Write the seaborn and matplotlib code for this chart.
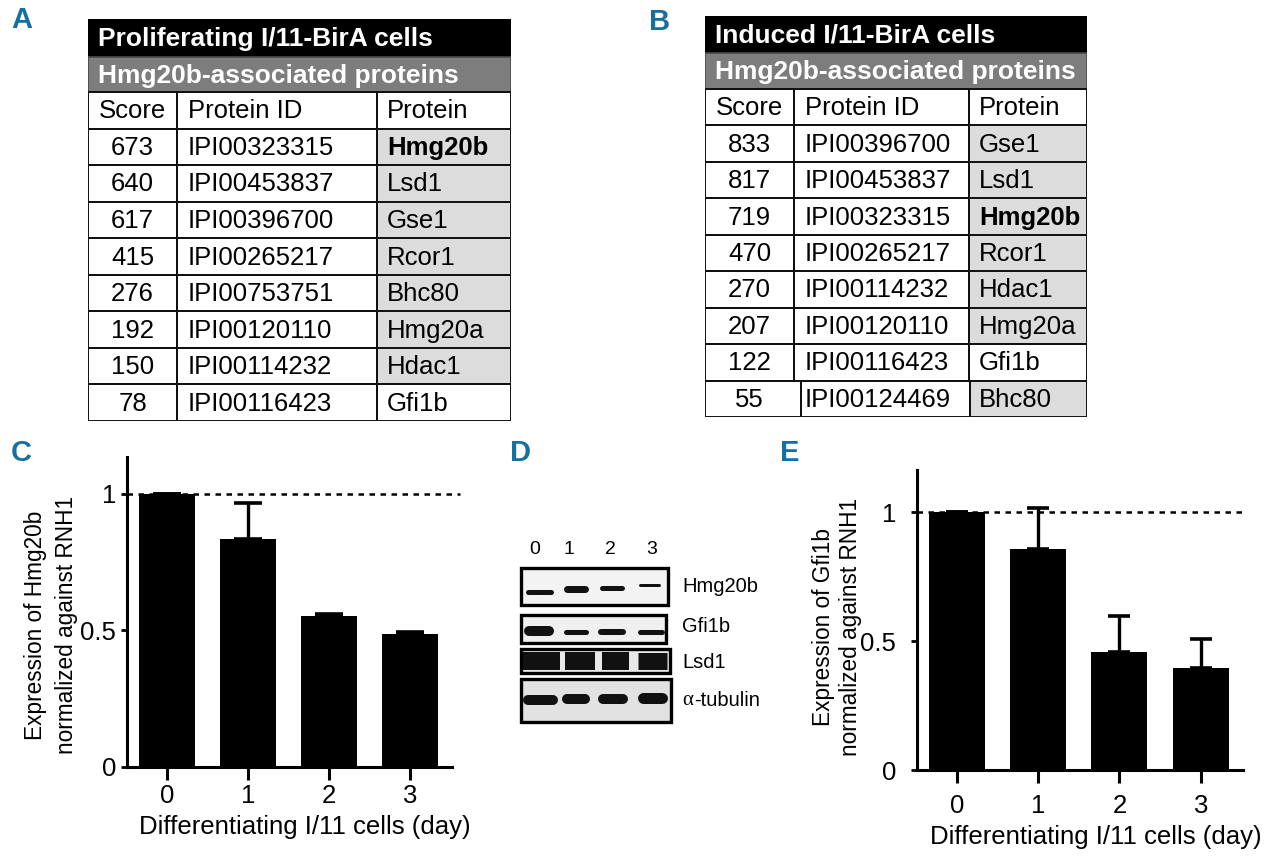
import matplotlib
matplotlib.use("Agg")
import matplotlib.pyplot as plt
from matplotlib.patches import Rectangle
import numpy as np
import pandas as pd
import seaborn as sns

# ----------------------------
# DATA
# ----------------------------
days = ["0", "1", "2", "3"]

# panel C: Hmg20b expression (mean, upper error)
hmg20b_expr = [1.0, 0.835, 0.553, 0.487]
hmg20b_err = [0.0, 0.132, 0.006, 0.009]

# panel E: Gfi1b expression (mean, upper error)
gfi1b_expr = [1.0, 0.855, 0.456, 0.394]
gfi1b_err = [0.0, 0.160, 0.142, 0.113]

# panel A: proliferating cells
prolif_scores = [673, 640, 617, 415, 276, 192, 150, 78]
prolif_ids = ["IPI00323315", "IPI00453837", "IPI00396700", "IPI00265217",
              "IPI00753751", "IPI00120110", "IPI00114232", "IPI00116423"]
prolif_proteins = ["Hmg20b", "Lsd1", "Gse1", "Rcor1", "Bhc80", "Hmg20a", "Hdac1", "Gfi1b"]
prolif_shaded = [True, True, True, True, True, True, True, False]

# panel B: induced cells
induced_scores = [833, 817, 719, 470, 270, 207, 122, 55]
induced_ids = ["IPI00396700", "IPI00453837", "IPI00323315", "IPI00265217",
               "IPI00114232", "IPI00120110", "IPI00116423", "IPI00124469"]
induced_proteins = ["Gse1", "Lsd1", "Hmg20b", "Rcor1", "Hdac1", "Hmg20a", "Gfi1b", "Bhc80"]
induced_shaded = [True, True, True, True, True, True, False, True]

table_header = ["Score", "Protein ID", "Protein"]

# panel D: western blot, band thickness (px) per lane
blot_lanes = ["0", "1", "2", "3"]
blot_targets = ["Hmg20b", "Gfi1b", "Lsd1", "-tubulin"]
hmg20b_band = [5, 7, 5, 3]
gfi1b_band = [10, 5, 6, 5]
lsd1_band = [18, 18, 18, 17]
tubulin_band = [10, 10, 10, 11]

# ----------------------------
# STYLE
# ----------------------------
W, H = 1280, 859
BLUE = "#16709f"
FONT = "Liberation Sans"
sns.set_style("ticks")
plt.rcParams["font.family"] = [FONT, "DejaVu Sans"]
for key in ["text.color", "axes.labelcolor", "xtick.color", "ytick.color", "axes.edgecolor"]:
    plt.rcParams[key] = "black"

fig = plt.figure(figsize=(W / 100, H / 100), dpi=100)


def px_axes(x0, y0, x1, y1):
    return fig.add_axes([x0 / W, 1 - y1 / H, (x1 - x0) / W, (y1 - y0) / H])


# ----------------------------
# TABLES (A, B)
# ----------------------------
def draw_table(box, title, scores, ids, proteins, shaded, col_edges, bands, last_edges=None):
    x0, y0, x1, y1 = box
    ax = px_axes(x0, y0, x1, y1)
    width, height = x1 - x0, y1 - y0
    ax.set_xlim(0, width)
    ax.set_ylim(height, 0)
    ax.axis("off")

    ax.add_patch(Rectangle((0, 0), width, bands[0], facecolor="black", edgecolor="black", lw=1.2))
    ax.text(10, bands[0] / 2 + 1, title, color="white", fontsize=19, fontweight="bold",
            ha="left", va="center")
    y = bands[0]
    ax.add_patch(Rectangle((0, y), width, bands[1], facecolor="#7d7d7d", edgecolor="#4a4a4a", lw=1.2))
    ax.text(10, y + bands[1] / 2 + 1, "Hmg20b-associated proteins", color="white", fontsize=19,
            fontweight="bold", ha="left", va="center")
    y += bands[1]

    n_rows = len(scores) + 1
    row_h = (height - y) / n_rows
    for r in range(n_rows):
        top = y + r * row_h
        edges = last_edges if (last_edges and r == n_rows - 1) else col_edges
        if r == 0:
            cells = table_header
            weights = ["normal"] * 3
            shade = False
        else:
            i = r - 1
            cells = [str(scores[i]), ids[i], proteins[i]]
            weights = ["normal", "normal", "bold" if proteins[i] == "Hmg20b" else "normal"]
            shade = shaded[i]
        if shade:
            ax.add_patch(Rectangle((edges[2], top), edges[3] - edges[2], row_h,
                                   facecolor="#dcdcdc", edgecolor="none"))
        for c in range(3):
            ax.add_patch(Rectangle((edges[c], top), edges[c + 1] - edges[c], row_h,
                                   facecolor="none", edgecolor="#111111", lw=1.4))
        cy = top + row_h / 2 + 1
        ax.text((col_edges[0] + col_edges[1]) / 2, cy, cells[0], fontsize=18.5,
                ha="center", va="center", fontweight=weights[0])
        ax.text(col_edges[1] + 11, cy, cells[1], fontsize=18.5,
                ha="left", va="center", fontweight=weights[1])
        ax.text(col_edges[2] + 10, cy, cells[2], fontsize=18.5,
                ha="left", va="center", fontweight=weights[2])


draw_table((88, 19, 511, 421), "Proliferating I/11-BirA cells", prolif_scores, prolif_ids,
           prolif_proteins, prolif_shaded, [0, 89, 289, 423], [38, 35])
draw_table((705, 16, 1087, 417), "Induced I/11-BirA cells", induced_scores, induced_ids,
           induced_proteins, induced_shaded, [0, 89, 264, 382], [37, 36],
           last_edges=[0, 96, 265, 382])


# ----------------------------
# BAR CHARTS (C, E)
# ----------------------------
def bar_panel(box, values, errs, ylabel, ytop, ylab_xy, ylab_spacing, xlab_y, xpad, ypad, capsize, dash_end):
    ax = px_axes(*box)
    df = pd.DataFrame({"day": days, "expr": values})
    sns.barplot(data=df, x="day", y="expr", color="black", saturation=1, width=0.69,
                edgecolor="black", linewidth=0, ax=ax)
    ax.errorbar(np.arange(len(days)), values, yerr=[np.zeros(len(errs)), errs], fmt="none",
                ecolor="black", elinewidth=2.4, capsize=capsize, capthick=2.6, zorder=3)
    ax.axhline(1, xmin=0, xmax=dash_end, color="black", lw=1.8, ls=(0, (2.2, 2.2)),
               clip_on=False, zorder=4)
    ax.set_xlim(-0.49, 3.52)
    ax.set_ylim(0, ytop)
    ax.set_yticks([0, 0.5, 1])
    ax.set_yticklabels(["0", "0.5", "1"])
    sns.despine(ax=ax)
    for s in ["left", "bottom"]:
        ax.spines[s].set_linewidth(2.2)
    ax.tick_params(axis="x", length=9, width=2.2, labelsize=18.5, pad=xpad)
    ax.tick_params(axis="y", length=4, width=2.0, labelsize=18.5, pad=ypad)
    ax.set_xlabel("Differentiating I/11 cells (day)", fontsize=18.5)
    ax.xaxis.set_label_coords(0.548, xlab_y)
    ax.xaxis.label.set_va("center")
    ax.set_ylabel(ylabel, fontsize=16.3, linespacing=ylab_spacing)
    ax.yaxis.label.set(rotation_mode="default", va="center", ha="center")
    ax.yaxis.set_label_coords(*ylab_xy)
    return ax


bar_panel((127, 457, 452, 767), hmg20b_expr, hmg20b_err,
          "Expression of Hmg20b\nnormalized against RNH1", 1.135, (-0.234, 0.458), 1.45,
          -0.194, 3, 4, 10, 1.025)
bar_panel((917, 470, 1243, 770), gfi1b_expr, gfi1b_err,
          "Expression of Gfi1b\nnormalized against RNH1", 1.163, (-0.246, 0.477), 1.22,
          -0.223, 8, 11, 8, 1.006)

# ----------------------------
# WESTERN BLOT (D)
# ----------------------------
axd = px_axes(500, 530, 800, 740)
axd.set_xlim(500, 800)
axd.set_ylim(740, 530)
axd.axis("off")

label_x = [535, 569, 610, 652]
for lx, lab in zip(label_x, blot_lanes):
    axd.text(lx, 550, lab, fontsize=14, ha="center", va="center")

boxes = [(568, 605, 668, "#f3f3f3"), (615, 643, 666, "#f0f0f0"),
         (649, 673, 670, "#e8e8e8"), (679, 722, 671, "#e2e2e2")]
band_x = [[539, 576, 612, 649], [539, 576, 612, 651],
          [541, 580, 615, 652], [540, 576, 613, 652]]
band_y = [[592, 589, 588, 585], [631, 632, 632, 632], [661, 661, 661, 661], [700, 699, 699, 698]]
band_len = [[28, 25, 25, 22], [30, 25, 28, 27], [37, 30, 27, 29], [35, 28, 30, 30]]
bands = [hmg20b_band, gfi1b_band, lsd1_band, tubulin_band]
label_y = [587, 626, 662, 700]

for k, (top, bot, right, bg) in enumerate(boxes):
    axd.add_patch(Rectangle((521, top), right - 521, bot - top, facecolor=bg,
                            edgecolor="black", lw=2.4, zorder=1))
    for j, thick in enumerate(bands[k]):
        cx = band_x[k][j]
        if k == 2:
            w, cap = band_len[k][j], "butt"
        else:
            w, cap = band_len[k][j] - thick, "round"
        axd.plot([cx - w / 2, cx + w / 2], [band_y[k][j]] * 2, color="#111111",
                 lw=thick * 0.72, solid_capstyle=cap, zorder=2)
    if k < 3:
        axd.text(682, label_y[k], blot_targets[k], fontsize=14.5, ha="left", va="center")
    else:
        axd.text(682, label_y[k], "α", fontsize=15, ha="left", va="center", family="Liberation Serif")
        axd.text(694, label_y[k], blot_targets[k], fontsize=14.5, ha="left", va="center")

# ----------------------------
# PANEL LETTERS
# ----------------------------
for letter, (lx, ly) in zip("ABCDE", [(22, 20), (660, 22), (21, 453), (520, 453), (790, 453)]):
    fig.text(lx / W, 1 - ly / H, letter, color=BLUE, fontsize=21, fontweight="bold",
             ha="center", va="center")

fig.savefig("out.png", dpi=100)
